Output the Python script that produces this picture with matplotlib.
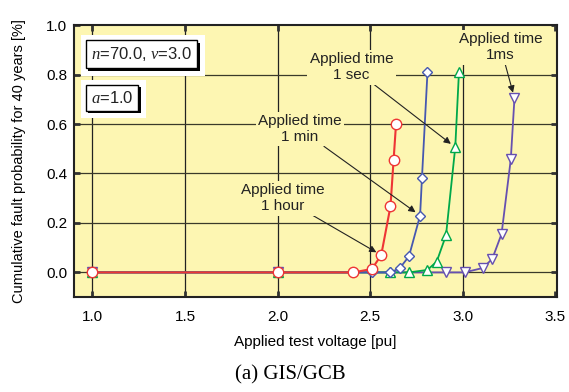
import matplotlib
matplotlib.use("Agg")
import matplotlib.pyplot as plt
from matplotlib.patches import Rectangle

plt.rcParams["font.family"] = "Liberation Sans"
plt.rcParams["mathtext.fontset"] = "custom"
plt.rcParams["mathtext.rm"] = "Liberation Serif"
plt.rcParams["mathtext.it"] = "Liberation Serif:italic"

# --- data --------------------------------------------------------------------
hour_x = [1.0, 2.0, 2.41, 2.51, 2.56, 2.61, 2.627, 2.64]
hour_y = [0.0, 0.0, 0.0, 0.014, 0.07, 0.267, 0.456, 0.60]
min_x = [1.0, 2.0, 2.51, 2.61, 2.66, 2.71, 2.77, 2.78, 2.81]
min_y = [0.0, 0.0, 0.0, 0.0, 0.017, 0.065, 0.23, 0.38, 0.81]
sec_x = [1.0, 2.0, 2.61, 2.71, 2.81, 2.86, 2.91, 2.96, 2.98]
sec_y = [0.0, 0.0, 0.0, 0.0, 0.01, 0.044, 0.15, 0.506, 0.81]
ms_x = [1.0, 2.0, 2.51, 2.91, 3.01, 3.11, 3.16, 3.21, 3.26, 3.28]
ms_y = [0.0, 0.0, 0.0, 0.0, 0.0, 0.018, 0.055, 0.155, 0.457, 0.705]

x_ticks = [1.0, 1.5, 2.0, 2.5, 3.0, 3.5]
y_ticks = [0.0, 0.2, 0.4, 0.6, 0.8, 1.0]

BG = "#FDF6B2"

fig = plt.figure(figsize=(5.69, 3.92), dpi=100)
ax = fig.add_axes([0.130, 0.242, 0.849, 0.694])
ax.set_facecolor(BG)

ax.plot(ms_x, ms_y, "-v", color="#6650B0", lw=1.3, ms=7, mfc="white", mec="#6650B0", mew=1.0, zorder=3)
ax.plot(sec_x, sec_y, "-^", color="#00A84A", lw=1.3, ms=7, mfc="white", mec="#00A84A", mew=1.0, zorder=4)
ax.plot(min_x, min_y, "-D", color="#4658B0", lw=1.3, ms=5, mfc="white", mec="#4658B0", mew=1.0, zorder=5)
ax.plot(hour_x, hour_y, "-o", color="#EE3535", lw=1.5, ms=7.5, mfc="white", mec="#EE3535", mew=1.0, zorder=6)

ax.set_xlim(0.9, 3.51)
ax.set_ylim(-0.1, 1.0)
ax.set_xticks(x_ticks)
ax.set_xticklabels([f"{v:.1f}" for v in x_ticks])
ax.set_yticks(y_ticks)
ax.set_yticklabels([f"{v:.1f}" for v in y_ticks])
ax.tick_params(direction="in", length=4, width=2, color="#333333", labelsize=11,
               top=True, right=True)
ax.tick_params(axis="x", pad=9)
ax.tick_params(axis="y", pad=5)
for v in x_ticks[:-1]:
    ax.axvline(v, color="#222222", lw=0.9, zorder=1)
for v in y_ticks[:-1]:
    ax.axhline(v, color="#3a3a2a", lw=0.9, zorder=1)
for s in ax.spines.values():
    s.set_linewidth(1.5)
    s.set_color("#222222")

ax.set_xlabel("Applied test voltage [pu]", fontsize=11, labelpad=8)
ax.set_ylabel("Cumulative fault probability for 40 years [%]", fontsize=10.5, labelpad=14)


# --- parameter boxes with drop shadow ------------------------------------------
def param_box(x, y, txt):
    t = ax.text(x, y, txt, transform=ax.transAxes, fontsize=12, va="center", ha="left",
                color="#222222", zorder=9,
                bbox=dict(boxstyle="square,pad=0.3", fc="white", ec="black", lw=1.0))
    fig.canvas.draw()
    bb = t.get_bbox_patch().get_window_extent()
    inv = fig.transFigure.inverted()
    fw, fh = fig.bbox.width, fig.bbox.height
    (x0, y0), (x1, y1) = inv.transform([(bb.x0, bb.y0), (bb.x1, bb.y1)])
    dx, dy = 2.5 / fw, 2.5 / fh
    mx, my = 5 / fw, 5 / fh
    ax.add_patch(Rectangle((x0 - mx, y0 - my - dy), x1 - x0 + 2 * mx + dx, y1 - y0 + 2 * my + dy,
                           transform=fig.transFigure, fc="white", ec="none",
                           clip_on=False, zorder=7))
    ax.add_patch(Rectangle((x0 + dx, y0 - dy), x1 - x0, y1 - y0,
                           transform=fig.transFigure, fc="black", ec="none",
                           clip_on=False, zorder=8))


param_box(0.035, 0.893, r"$n$=70.0, $v$=3.0")
param_box(0.035, 0.733, r"$a$=1.0")

# --- annotations ---------------------------------------------------------------
lbl = dict(fontsize=11, ha="center", va="center", color="#222222", zorder=10,
           bbox=dict(boxstyle="square,pad=0.15", fc=BG, ec="none"),
           arrowprops=dict(arrowstyle="-|>", color="#222222", lw=0.8,
                           mutation_scale=10, shrinkA=0, shrinkB=4))
ax.annotate("Applied time\n1 hour", xy=(hour_x[4], hour_y[4]), xytext=(2.03, 0.30), **lbl)
ax.annotate("Applied time\n1 min", xy=(min_x[6], min_y[6]), xytext=(2.12, 0.58), **lbl)
ax.annotate("Applied time\n1 sec", xy=(sec_x[7], sec_y[7]), xytext=(2.40, 0.83), **lbl)
ax.annotate("Applied time\n1ms", xy=(ms_x[9], ms_y[9]), xytext=(3.205, 0.91), **lbl)

fig.text(0.51, 0.043, "(a) GIS/GCB", fontsize=15, family="Liberation Serif",
         ha="center", va="center")

fig.savefig("out.png", dpi=100)
